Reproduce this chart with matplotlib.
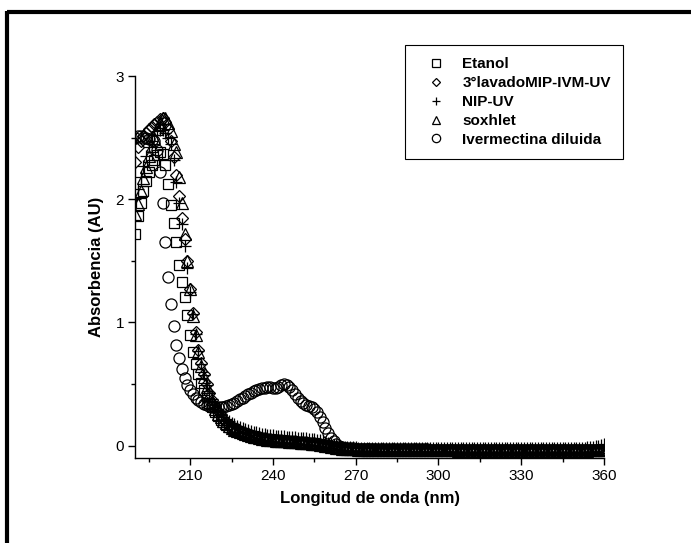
import numpy as np
import matplotlib
matplotlib.use("Agg")
import matplotlib.pyplot as plt
from matplotlib.lines import Line2D

plt.rcParams['font.family'] = ['Liberation Sans', 'DejaVu Sans']

wavelength = np.arange(190, 361)

etanol = [
    1.72, 1.86, 1.97, 2.07, 2.15, 2.22, 2.28, 2.32, 2.36, 2.38,
    2.37, 2.28, 2.12, 1.95, 1.81, 1.65, 1.47, 1.33, 1.21, 1.06,
    0.90, 0.76, 0.66, 0.58, 0.51, 0.45, 0.40, 0.35, 0.31, 0.27,
    0.24, 0.21, 0.19, 0.17, 0.155, 0.14, 0.13, 0.12, 0.11, 0.10,
    0.093, 0.087, 0.081, 0.076, 0.071, 0.066, 0.062, 0.058, 0.055, 0.052,
    0.049, 0.047, 0.045, 0.043, 0.041, 0.039, 0.037, 0.035, 0.033, 0.031,
    0.029, 0.027, 0.025, 0.023, 0.021, 0.019, 0.016, 0.012, 0.008, 0.003,
    -0.002, -0.007, -0.012, -0.016, -0.019, -0.022, -0.024, -0.026, -0.027, -0.028,
    -0.029, -0.030, -0.030, -0.031, -0.031, -0.032, -0.032, -0.032, -0.033, -0.033,
    -0.033, -0.033, -0.034, -0.034, -0.034, -0.034, -0.035, -0.035, -0.035, -0.035,
    -0.035, -0.035, -0.036, -0.036, -0.036, -0.036, -0.036, -0.036, -0.036, -0.037,
    -0.037, -0.037, -0.037, -0.037, -0.037, -0.037, -0.037, -0.038, -0.038, -0.038,
    -0.038, -0.038, -0.038, -0.038, -0.038, -0.038, -0.038, -0.038, -0.038, -0.038,
    -0.038, -0.038, -0.038, -0.039, -0.039, -0.039, -0.039, -0.039, -0.039, -0.039,
    -0.039, -0.039, -0.039, -0.039, -0.039, -0.039, -0.039, -0.039, -0.039, -0.039,
    -0.039, -0.039, -0.039, -0.039, -0.039, -0.039, -0.039, -0.039, -0.039, -0.039,
    -0.038, -0.038, -0.038, -0.038, -0.038, -0.037, -0.037, -0.036, -0.036, -0.035,
    -0.034,
]

lavado = [
    2.30, 2.42, 2.47, 2.51, 2.54, 2.57, 2.59, 2.61, 2.63, 2.65,
    2.66, 2.63, 2.57, 2.47, 2.34, 2.20, 2.03, 1.85, 1.68, 1.50,
    1.27, 1.08, 0.92, 0.78, 0.67, 0.58, 0.50, 0.43, 0.37, 0.32,
    0.28, 0.245, 0.215, 0.19, 0.17, 0.155, 0.14, 0.128, 0.117, 0.107,
    0.098, 0.091, 0.084, 0.078, 0.073, 0.068, 0.064, 0.060, 0.056, 0.053,
    0.050, 0.048, 0.046, 0.044, 0.042, 0.040, 0.038, 0.036, 0.034, 0.032,
    0.030, 0.028, 0.026, 0.024, 0.022, 0.020, 0.017, 0.013, 0.009, 0.004,
    -0.001, -0.006, -0.011, -0.015, -0.018, -0.021, -0.023, -0.025, -0.026, -0.027,
    -0.028, -0.029, -0.029, -0.030, -0.030, -0.031, -0.031, -0.031, -0.032, -0.032,
    -0.032, -0.032, -0.033, -0.033, -0.033, -0.033, -0.034, -0.034, -0.034, -0.034,
    -0.034, -0.034, -0.035, -0.035, -0.035, -0.035, -0.035, -0.035, -0.035, -0.036,
    -0.036, -0.036, -0.036, -0.036, -0.036, -0.036, -0.036, -0.037, -0.037, -0.037,
    -0.037, -0.037, -0.037, -0.037, -0.037, -0.037, -0.037, -0.037, -0.037, -0.037,
    -0.037, -0.037, -0.037, -0.038, -0.038, -0.038, -0.038, -0.038, -0.038, -0.038,
    -0.038, -0.038, -0.038, -0.038, -0.038, -0.038, -0.038, -0.038, -0.038, -0.038,
    -0.038, -0.038, -0.038, -0.038, -0.038, -0.038, -0.038, -0.038, -0.038, -0.038,
    -0.037, -0.037, -0.037, -0.037, -0.037, -0.036, -0.036, -0.035, -0.035, -0.034,
    -0.033,
]

nip_uv = [
    2.00, 2.08, 2.18, 2.27, 2.35, 2.42, 2.47, 2.52, 2.55, 2.56,
    2.56, 2.54, 2.50, 2.45, 2.32, 2.14, 1.97, 1.80, 1.62, 1.44,
    1.25, 1.07, 0.91, 0.77, 0.66, 0.57, 0.49, 0.43, 0.38, 0.33,
    0.29, 0.26, 0.235, 0.215, 0.20, 0.185, 0.172, 0.16, 0.15, 0.14,
    0.132, 0.125, 0.118, 0.112, 0.107, 0.102, 0.098, 0.094, 0.090, 0.087,
    0.084, 0.081, 0.079, 0.077, 0.075, 0.073, 0.071, 0.069, 0.067, 0.065,
    0.063, 0.061, 0.059, 0.057, 0.055, 0.053, 0.050, 0.046, 0.040, 0.032,
    0.023, 0.014, 0.006, 0.000, -0.004, -0.007, -0.009, -0.011, -0.012, -0.013,
    -0.014, -0.015, -0.015, -0.016, -0.016, -0.017, -0.017, -0.017, -0.018, -0.018,
    -0.018, -0.018, -0.018, -0.019, -0.019, -0.019, -0.019, -0.019, -0.019, -0.019,
    -0.019, -0.019, -0.020, -0.020, -0.020, -0.020, -0.020, -0.020, -0.020, -0.020,
    -0.020, -0.020, -0.020, -0.020, -0.020, -0.020, -0.020, -0.020, -0.020, -0.020,
    -0.020, -0.020, -0.020, -0.020, -0.020, -0.020, -0.020, -0.020, -0.020, -0.020,
    -0.020, -0.020, -0.020, -0.020, -0.020, -0.020, -0.020, -0.020, -0.020, -0.020,
    -0.020, -0.020, -0.020, -0.020, -0.020, -0.020, -0.020, -0.020, -0.019, -0.019,
    -0.019, -0.019, -0.019, -0.019, -0.019, -0.019, -0.019, -0.019, -0.018, -0.018,
    -0.018, -0.017, -0.016, -0.015, -0.013, -0.011, -0.008, -0.005, -0.001, 0.004,
    0.010,
]

soxhlet = [
    1.88, 1.96, 2.07, 2.17, 2.26, 2.35, 2.43, 2.50, 2.57, 2.63,
    2.66, 2.66, 2.62, 2.55, 2.45, 2.38, 2.18, 1.97, 1.72, 1.50,
    1.27, 1.05, 0.90, 0.76, 0.65, 0.56, 0.48, 0.41, 0.35, 0.30,
    0.26, 0.23, 0.20, 0.18, 0.16, 0.145, 0.13, 0.12, 0.11, 0.10,
    0.092, 0.085, 0.078, 0.072, 0.067, 0.062, 0.058, 0.054, 0.050, 0.047,
    0.044, 0.042, 0.040, 0.038, 0.036, 0.034, 0.032, 0.030, 0.028, 0.026,
    0.024, 0.022, 0.020, 0.018, 0.016, 0.014, 0.011, 0.008, 0.004, 0.000,
    -0.005, -0.010, -0.014, -0.018, -0.021, -0.024, -0.026, -0.028, -0.029, -0.030,
    -0.031, -0.032, -0.032, -0.033, -0.033, -0.034, -0.034, -0.034, -0.035, -0.035,
    -0.035, -0.035, -0.036, -0.036, -0.036, -0.036, -0.037, -0.037, -0.037, -0.037,
    -0.037, -0.037, -0.038, -0.038, -0.038, -0.038, -0.038, -0.038, -0.038, -0.039,
    -0.039, -0.039, -0.039, -0.039, -0.039, -0.039, -0.039, -0.040, -0.040, -0.040,
    -0.040, -0.040, -0.040, -0.040, -0.040, -0.040, -0.040, -0.040, -0.040, -0.040,
    -0.040, -0.040, -0.040, -0.041, -0.041, -0.041, -0.041, -0.041, -0.041, -0.041,
    -0.041, -0.041, -0.041, -0.041, -0.041, -0.041, -0.041, -0.041, -0.041, -0.041,
    -0.041, -0.041, -0.041, -0.041, -0.041, -0.041, -0.041, -0.041, -0.041, -0.041,
    -0.040, -0.040, -0.040, -0.040, -0.040, -0.039, -0.039, -0.038, -0.038, -0.037,
    -0.036,
]

ivermectina = [
    2.50, 2.51, 2.51, 2.50, 2.50, 2.49, 2.48, 2.47, 2.40, 2.22,
    1.97, 1.65, 1.37, 1.15, 0.97, 0.82, 0.71, 0.62, 0.55, 0.49,
    0.45, 0.42, 0.39, 0.37, 0.355, 0.34, 0.33, 0.32, 0.315, 0.31,
    0.31, 0.31, 0.315, 0.32, 0.33, 0.34, 0.35, 0.365, 0.38, 0.39,
    0.405, 0.42, 0.43, 0.44, 0.45, 0.46, 0.465, 0.47, 0.475, 0.475,
    0.47, 0.47, 0.475, 0.49, 0.50, 0.495, 0.475, 0.45, 0.42, 0.39,
    0.365, 0.345, 0.33, 0.32, 0.31, 0.295, 0.27, 0.235, 0.19, 0.145,
    0.100, 0.065, 0.035, 0.015, 0.000, -0.010, -0.015, -0.018, -0.020, -0.022,
    -0.024, -0.025, -0.026, -0.026, -0.027, -0.027, -0.028, -0.028, -0.028, -0.029,
    -0.029, -0.029, -0.029, -0.030, -0.030, -0.030, -0.030, -0.030, -0.030, -0.031,
    -0.031, -0.031, -0.031, -0.031, -0.031, -0.031, -0.031, -0.032, -0.032, -0.032,
    -0.032, -0.032, -0.032, -0.032, -0.032, -0.032, -0.032, -0.032, -0.033, -0.033,
    -0.033, -0.033, -0.033, -0.033, -0.033, -0.033, -0.033, -0.033, -0.033, -0.033,
    -0.033, -0.033, -0.033, -0.033, -0.033, -0.033, -0.033, -0.033, -0.033, -0.033,
    -0.033, -0.033, -0.033, -0.033, -0.033, -0.033, -0.033, -0.033, -0.033, -0.033,
    -0.033, -0.033, -0.033, -0.033, -0.033, -0.033, -0.033, -0.033, -0.033, -0.033,
    -0.033, -0.033, -0.033, -0.033, -0.032, -0.032, -0.032, -0.032, -0.032, -0.032,
    -0.032,
]

series_labels = ["Etanol", "3°lavadoMIP-IVM-UV", "NIP-UV", "soxhlet", "Ivermectina diluida"]
series_values = [etanol, lavado, nip_uv, soxhlet, ivermectina]
markers = ['s', 'D', '+', '^', 'o']
msizes = [7, 6, 8, 8, 8]

x_ticks = [210, 240, 270, 300, 330, 360]
y_ticks = [0, 1, 2, 3]

W, H = 691, 543
fig = plt.figure(figsize=(W / 100, H / 100), dpi=100)
ax = fig.add_axes([135 / W, 1 - 458 / H, (604 - 135) / W, (458 - 76) / H])

for lab, vals, m, ms in zip(series_labels, series_values, markers, msizes):
    ax.plot(wavelength, vals, linestyle='none', marker=m, markersize=ms,
            markerfacecolor='none', markeredgecolor='black',
            markeredgewidth=0.9, color='black', label=lab)

ax.set_xlim(190, 360)
ax.set_ylim(-0.1, 3.0)
ax.set_xticks(x_ticks)
ax.set_xticks([195, 225, 255, 285, 315, 345], minor=True)
ax.set_yticks(y_ticks)
ax.set_yticks([0.5, 1.5, 2.5], minor=True)
ax.tick_params(which='major', direction='out', length=5, width=1, labelsize=11, pad=3)
ax.tick_params(which='minor', direction='out', length=3, width=1)
for s in ['top', 'right']:
    ax.spines[s].set_visible(False)
for s in ['left', 'bottom']:
    ax.spines[s].set_linewidth(1)

ax.set_xlabel("Longitud de onda (nm)", fontsize=12, fontweight='bold', labelpad=6)
ax.set_ylabel("Absorbencia (AU)", fontsize=12, fontweight='bold', labelpad=8)

leg = fig.legend(loc='upper left', bbox_to_anchor=(405 / W, 1 - 45 / H),
                 borderaxespad=0, frameon=True, fancybox=False,
                 edgecolor='black', framealpha=1, markerscale=0.75,
                 prop={'weight': 'bold', 'size': 11},
                 handlelength=2.45, handletextpad=0.5, labelspacing=0.32,
                 borderpad=0.8)
leg.get_frame().set_linewidth(0.8)

# thick figure frame (top and left)
fig.add_artist(Line2D([7 / W, 1.0], [1 - 12 / H, 1 - 12 / H], transform=fig.transFigure,
                      color='black', linewidth=3, solid_capstyle='butt'))
fig.add_artist(Line2D([7 / W, 7 / W], [1 - 10.5 / H, 0.0], transform=fig.transFigure,
                      color='black', linewidth=3, solid_capstyle='butt'))

fig.savefig("out.png", dpi=100)
